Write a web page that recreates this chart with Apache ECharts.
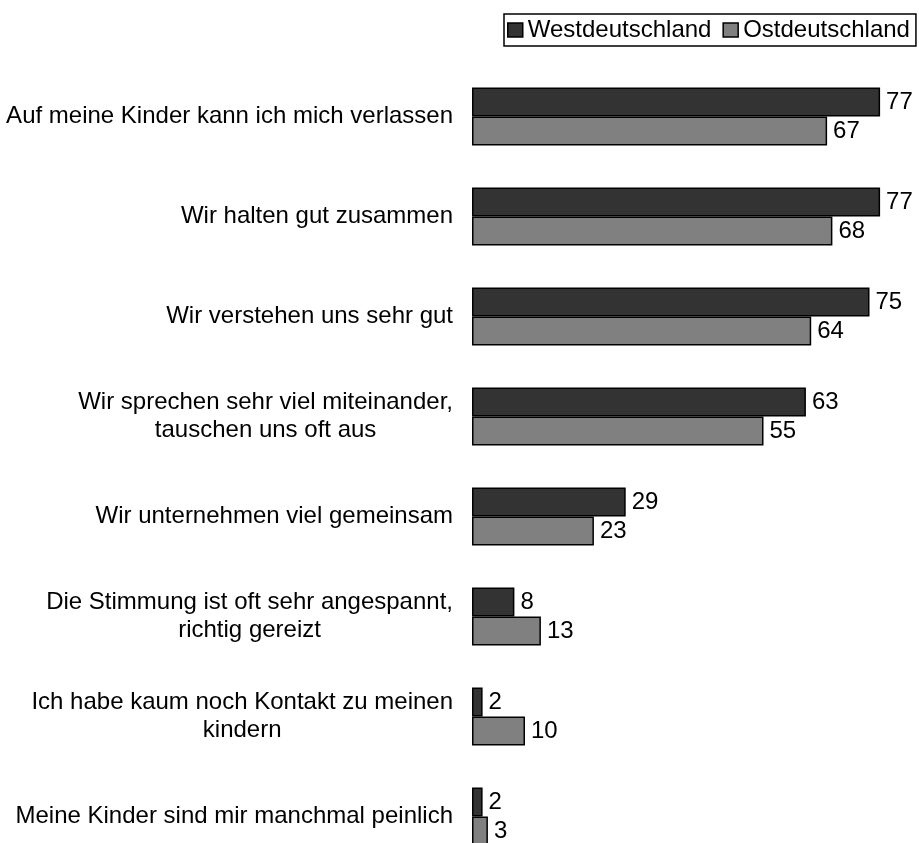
<!DOCTYPE html>
<html>
<head>
<meta charset="utf-8">
<script src="https://cdn.jsdelivr.net/npm/echarts@6/dist/echarts.min.js"></script>
<style>
  html, body { margin: 0; padding: 0; background: #fff; }
  #chart { width: 919px; height: 843px; }
</style>
</head>
<body>
<div id="chart"></div>
<script>
// Kategorien (von oben nach unten)
const categories = [
  'Auf meine Kinder kann ich mich verlassen',
  'Wir halten gut zusammen',
  'Wir verstehen uns sehr gut',
  'Wir sprechen sehr viel miteinander,\ntauschen uns oft aus',
  'Wir unternehmen viel gemeinsam',
  'Die Stimmung ist oft sehr angespannt,\nrichtig gereizt',
  'Ich habe kaum noch Kontakt zu meinen\nkindern',
  'Meine Kinder sind mir manchmal peinlich'
];
const seriesNames = ['Westdeutschland', 'Ostdeutschland'];
const west = [77, 77, 75, 63, 29, 8, 2, 2];
const east = [67, 68, 64, 55, 23, 13, 10, 3];

const chart = echarts.init(document.getElementById('chart'));
const font = 'Liberation Sans, Arial, sans-serif';

const labelStyle = {
  show: true,
  position: 'right',
  distance: 6,
  color: '#000',
  fontSize: 24,
  fontFamily: font
};

const option = {
  animation: false,
  legend: {
    data: seriesNames,
    left: 504,
    top: 14,
    padding: [4, 6, 4, 3],
    icon: 'rect',
    itemWidth: 15,
    itemHeight: 14,
    itemGap: 11,
    borderColor: '#000',
    borderWidth: 1.5,
    itemStyle: { borderColor: '#000', borderWidth: 1.5 },
    textStyle: { color: '#000', fontSize: 24, fontFamily: font }
  },
  grid: {
    left: 472,
    width: 80 * 5.3,
    top: 66.5,
    height: 800,
    outerBoundsMode: 'none',
    containLabel: false
  },
  xAxis: {
    type: 'value',
    min: 0,
    max: 80,
    show: false
  },
  yAxis: {
    type: 'category',
    data: categories,
    inverse: true,
    axisLine: { show: false },
    axisTick: { show: false },
    splitLine: { show: false },
    axisLabel: {
      margin: 19,
      color: '#000',
      fontSize: 24,
      fontFamily: font,
      lineHeight: 28,
      formatter: function (v) {
        return v.split('\n').map(function (s) { return '{c|' + s + '}'; }).join('\n');
      },
      rich: {
        c: { align: 'center', fontSize: 24, fontFamily: font, color: '#000', lineHeight: 28 }
      }
    }
  },
  series: [
    {
      name: seriesNames[0],
      type: 'bar',
      data: west,
      barWidth: 29,
      barGap: '0%',
      itemStyle: { color: '#333333', borderColor: '#000', borderWidth: 1.5 },
      label: labelStyle
    },
    {
      name: seriesNames[1],
      type: 'bar',
      data: east,
      barWidth: 29,
      itemStyle: { color: '#808080', borderColor: '#000', borderWidth: 1.5 },
      label: labelStyle
    }
  ]
};

chart.setOption(option);
</script>
</body>
</html>
